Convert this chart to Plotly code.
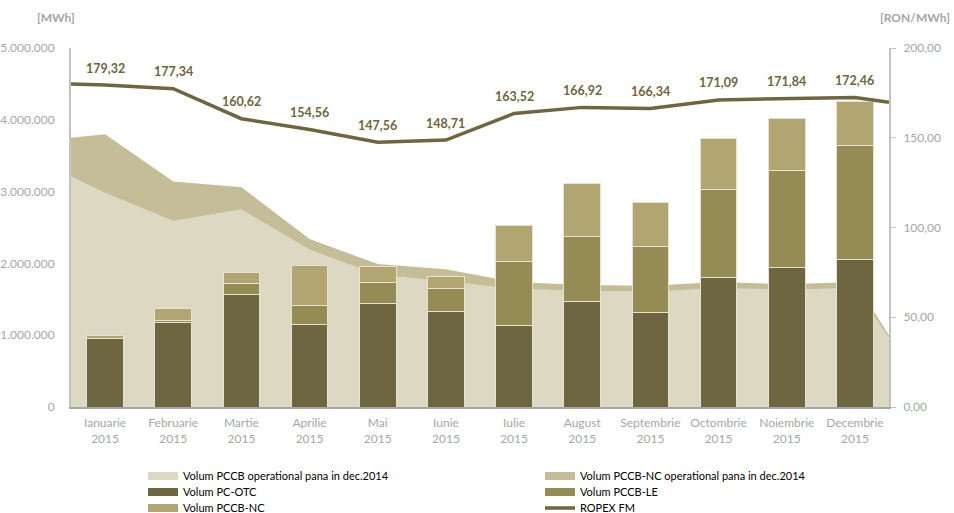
import plotly.graph_objects as go

# categories (bars at index 0..11); areas and ROPEX also have values at the plot edges
months = ["Ianuarie", "Februarie", "Martie", "Aprilie", "Mai", "Iunie",
          "Iulie", "August", "Septembrie", "Octombrie", "Noiembrie", "Decembrie"]
year = "2015"

# stacked bars [MWh]
vol_pc_otc = [955000, 1180000, 1571000, 1152000, 1445000, 1334000,
              1133000, 1473000, 1320000, 1802000, 1937000, 2059000]
vol_pccb_le = [5000, 30000, 148000, 260000, 293000, 320000,
               892000, 906000, 915000, 1228000, 1363000, 1583000]
vol_pccb_nc = [42000, 156000, 149000, 558000, 212000, 158000,
               508000, 739000, 609000, 710000, 720000, 608000]

# stacked areas [MWh]: left edge, 12 months, right edge
area_x = [-0.5] + list(range(12)) + [11.5]
vol_pccb_op = [3210000, 2980000, 2590000, 2750000, 2190000, 1840000, 1750000,
               1645000, 1620000, 1607000, 1652000, 1638000, 1655000, 960000]
vol_pccb_nc_op = [540000, 820000, 550000, 310000, 150000, 150000, 170000,
                  95000, 80000, 83000, 88000, 72000, 85000, 40000]

# ROPEX FM [RON/MWh]: left edge, 12 months, right edge
ropex = [180.0, 179.32, 177.34, 160.62, 154.56, 147.56, 148.71,
         163.52, 166.92, 166.34, 171.09, 171.84, 172.46, 169.7]

C_OP = "#ddd8c1"
C_NC_OP = "#c5bd97"
C_OTC = "#6d6640"
C_LE = "#958b54"
C_NC = "#b1a671"
C_LINE = "#6d6640"
GRAY = "#a6a6a6"
FONT = "Lato"
W, H = 954, 513

idx = list(range(12))
fig = go.Figure()

# areas on the base subplot (drawn under the bars)
fig.add_trace(go.Scatter(x=area_x, y=vol_pccb_op, stackgroup="op", mode="lines",
                         line=dict(width=0), fillcolor=C_OP, showlegend=False,
                         hoverinfo="skip"))
fig.add_trace(go.Scatter(x=area_x, y=vol_pccb_nc_op, stackgroup="op", mode="lines",
                         line=dict(width=0), fillcolor=C_NC_OP, showlegend=False,
                         hoverinfo="skip"))

# bars on an overlaid axis with the same range
for vals, col in [(vol_pc_otc, C_OTC), (vol_pccb_le, C_LE), (vol_pccb_nc, C_NC)]:
    fig.add_trace(go.Bar(x=idx, y=vals, width=0.54, yaxis="y2",
                         marker=dict(color=col, line=dict(color="#e6e2cf", width=1)),
                         showlegend=False))

# ROPEX line on the right axis
fig.add_trace(go.Scatter(x=area_x, y=ropex, yaxis="y3", mode="lines",
                         line=dict(color=C_LINE, width=3.5), showlegend=False))

# value labels above the monthly points
annots = []
for i, v in zip(idx, ropex[1:-1]):
    annots.append(dict(x=i, y=v, xref="x", yref="y3", yshift=17,
                       text="<b>" + f"{v:.2f}".replace(".", ",") + "</b>",
                       showarrow=False,
                       font=dict(family=FONT, size=12.5, color=C_LINE)))

# legend-only entries, one small legend each so the rows sit 16 px apart
leg = [("Volum PCCB operational pana in dec.2014", C_OP, 8),
       ("Volum PCCB-NC operational pana in dec.2014", C_NC_OP, 8),
       ("Volum PC-OTC", C_OTC, 8),
       ("Volum PCCB-LE", C_LE, 8),
       ("Volum PCCB-NC", C_NC, 8),
       ("ROPEX FM", C_LINE, 3.5)]
leg_layout = {}
for k, (name, col, w) in enumerate(leg):
    lg = "legend" if k == 0 else f"legend{k + 1}"
    fig.add_trace(go.Scatter(x=[None], y=[None], mode="lines", name=name,
                             line=dict(color=col, width=w), legend=lg))
    col_x = 143 if k % 2 == 0 else 540
    row_y = 476 + 16 * (k // 2)
    leg_layout[lg] = dict(xref="container", yref="container",
                          x=col_x / W, y=1 - row_y / H,
                          xanchor="left", yanchor="middle", orientation="v",
                          font=dict(size=11, color="#000000"), itemwidth=30,
                          bgcolor="rgba(0,0,0,0)")

fig.update_layout(
    width=W, height=H,
    margin=dict(l=71, r=65, t=48, b=106, autoexpand=False),
    plot_bgcolor="white", paper_bgcolor="white",
    separators=",.",
    barmode="stack",
    font=dict(family=FONT, size=12, color=GRAY),
    xaxis=dict(range=[-0.5, 11.5], tickvals=idx,
               ticktext=[f"{m}<br>{year}" for m in months],
               showline=True, linecolor="#a6a6a6", linewidth=1.5,
               ticks="", ticklabelstandoff=4, showgrid=False, zeroline=False,
               tickfont=dict(size=12, color=GRAY)),
    yaxis=dict(range=[0, 5000000], tickvals=[0, 1000000, 2000000, 3000000, 4000000, 5000000],
               tickformat=",d", showline=True, linecolor="#c3c3c3", linewidth=2,
               ticks="", ticklabelstandoff=12, showgrid=False, zeroline=False,
               tickfont=dict(size=12, color=GRAY)),
    yaxis2=dict(range=[0, 5000000], overlaying="y", visible=False),
    yaxis3=dict(range=[0, 200], overlaying="y", side="right",
                tickvals=[0, 50, 100, 150, 200], tickformat=".2f",
                showline=True, linecolor="#c3c3c3", linewidth=2,
                ticks="outside", ticklen=5, tickcolor="#c3c3c3",
                ticklabelstandoff=5, showgrid=False, zeroline=False,
                tickfont=dict(size=12, color=GRAY)),
    annotations=annots + [
        dict(text="<b>[MWh]</b>", xref="paper", yref="paper", x=0.0073, y=1.086,
             xanchor="right", yanchor="middle", showarrow=False,
             font=dict(size=12, color=GRAY)),
        dict(text="<b>[RON/MWh]</b>", xref="paper", yref="paper", x=1.077, y=1.086,
             xanchor="right", yanchor="middle", showarrow=False,
             font=dict(size=12, color=GRAY)),
    ],
    **leg_layout,
)

# the page's default body margin would shift the figure by 8 px
fig.write_html("out.html", config={"displayModeBar": False},
               post_script="document.body.style.margin='0';")
